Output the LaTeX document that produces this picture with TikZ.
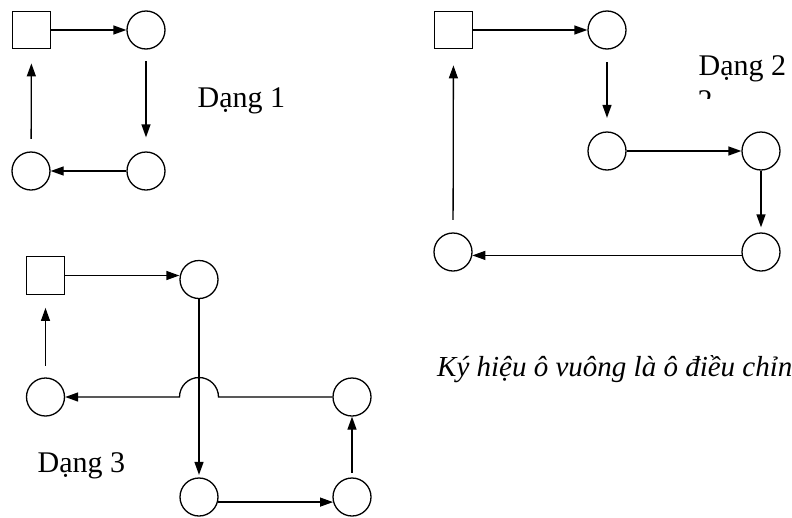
\documentclass[tikz,border=0pt]{standalone}
\usepackage{fontspec}
\setmainfont{Liberation Serif}
\usetikzlibrary{arrows.meta}
\begin{document}
\begin{tikzpicture}[x=1pt,y=-1pt,
  sq/.style={draw,rectangle,minimum size=37.5pt,inner sep=0pt,line width=1.3pt},
  cir/.style={draw,circle,minimum size=38pt,inner sep=0pt,line width=1.3pt},
  arr/.style={line width=1.3pt,-{Triangle[length=13pt,width=9pt]}},
  lbl/.style={anchor=base west,inner sep=0pt,font=\fontsize{30}{36}\selectfont}]
\useasboundingbox (0,0) rectangle (792,517);
\begin{scope}
\clip (0,0) rectangle (792,517);
% ---------- Dang 1
\node[sq]  (s1) at (31.5,30) {};
\node[cir] (a1) at (146,30) {};
\node[cir] (b1) at (146,171) {};
\node[cir] (c1) at (31,171) {};
\draw[arr] (s1) -- (a1);
\draw[arr,shorten <=11.5pt,shorten >=14pt] (a1) -- (b1);
\draw[arr] (b1) -- (c1);
\draw[arr,shorten <=12.5pt,shorten >=14pt] (c1) -- (s1);
\node[lbl] (t1) at (197.5,107) {Dạng 1};
% ---------- Dang 2
\node[sq]  (s2) at (453.5,30) {};
\node[cir] (a2) at (607,30) {};
\node[cir] (b2) at (607,151) {};
\node[cir] (c2) at (761,151) {};
\node[cir] (d2) at (761,252) {};
\node[cir] (e2) at (453,252) {};
\draw[arr] (s2) -- (a2);
\draw[arr,shorten <=12.5pt,shorten >=13.5pt] (a2) -- (b2);
\draw[arr] (b2) -- (c2);
\draw[arr,shorten >=5pt] (c2) -- (d2);
\draw[arr] (d2.190) -- (e2.-10);
\draw[arr,shorten <=12.5pt,shorten >=16pt] (e2) -- (s2);
\node[lbl] (t2) at (698.5,75) {Dạng 2};
\begin{scope}
\clip (690,85) rectangle (720,98);
\node[lbl] (t2b) at (697.5,110) {2};
\end{scope}
% ---------- Dang 3
\node[sq]  (s3) at (45.5,275.5) {};
\node[cir] (a3) at (199,279.5) {};
\node[cir] (b3) at (45.5,397) {};
\node[cir] (c3) at (352,397) {};
\node[cir] (d3) at (199,497) {};
\node[cir] (e3) at (352,497) {};
\draw[arr] (s3.east) -- (s3.east -| a3.west);
\draw[arr,shorten >=2.5pt] (a3) -- (d3);
\draw[arr] (c3.west) -- ([xshift=19.5pt]a3 |- c3) arc[start angle=0,end angle=180,radius=19.5pt] -- (b3.east);
\draw[arr] (d3.-15) -- (e3.195);
\draw[arr,shorten <=4.5pt] (e3) -- (c3);
\draw[arr,shorten <=11.5pt,shorten >=13pt] (b3) -- (s3);
\node[lbl] (t3) at (37.5,472) {Dạng 3};
% ---------- note
\node[anchor=base west,inner sep=0pt,font=\fontsize{29}{35}\selectfont\itshape] (note) at (437,376) {Ký hiệu ô vuông là ô điều chỉnh};
\end{scope}
\end{tikzpicture}
\end{document}
